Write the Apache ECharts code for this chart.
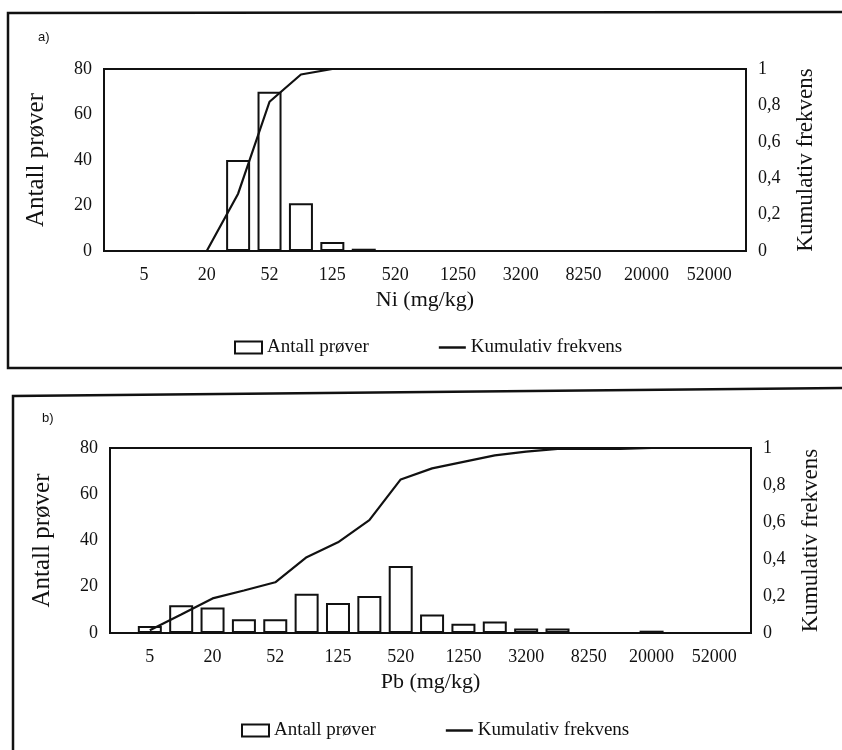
<!DOCTYPE html>
<html>
<head>
<meta charset="utf-8">
<title>Ni og Pb</title>
<script src="https://cdn.jsdelivr.net/npm/echarts@6/dist/echarts.min.js"></script>
<style>
  html, body { margin: 0; padding: 0; background: #fff; }
  #chart { width: 842px; height: 750px; }
</style>
</head>
<body>
<div id="chart"></div>
<script>
// klasser (bare annenhver har etikett)
const binLabels = ['5', '', '20', '', '52', '', '125', '', '520', '', '1250', '', '3200', '', '8250', '', '20000', '', '52000'];
const labelPositions = [0, 2, 4, 6, 8, 10, 12, 14, 16, 18];

// a) Ni
const niCounts = [0, 0, 0, 40, 70, 21, 4, 1, 0, 0, 0, 0, 0, 0, 0, 0, 0, 0, 0];
const niCumulative = [0, 0, 0, 0.315, 0.82, 0.97, 1, 1, 1, 1, 1, 1, 1, 1, 1, 1, 1, 1, 1];

// b) Pb
const pbCounts = [3, 12, 11, 6, 6, 17, 13, 16, 29, 8, 4, 5, 2, 2, 0, 0, 1, 0, 0];
const pbCumulative = [0.015, 0.1, 0.187, 0.23, 0.274, 0.41, 0.49, 0.61, 0.83, 0.89, 0.925, 0.96, 0.98, 0.995, 0.995, 0.995, 1, 1, 1];

const leftTicks = [0, 20, 40, 60, 80];
const rightTicks = [0, 0.2, 0.4, 0.6, 0.8, 1];

const serif = 'Liberation Serif';
const ink = '#111';

let chart = echarts.init(document.getElementById('chart'), null, {renderer: 'canvas'});

let toPairs = (arr) => arr.map((v, i) => [i, v]);
let commaNum = (v) => {
  if (v === 0) return '0';
  if (v === 1) return '1';
  return v.toFixed(1).replace('.', ',');
};

let makeX = (gridIndex, name) => ({
  type: 'value',
  gridIndex: gridIndex,
  min: -1.27,
  max: 19.17,
  name: name,
  nameLocation: 'middle',
  nameGap: 38,
  nameTextStyle: {fontFamily: serif, fontSize: 22, color: ink},
  axisLine: {show: true, onZero: false, lineStyle: {color: ink, width: 2}},
  axisTick: {show: false},
  splitLine: {show: false},
  axisLabel: {
    customValues: labelPositions,
    formatter: (v) => binLabels[Math.round(v)],
    fontFamily: serif, fontSize: 18, color: ink, margin: 15
  }
});

let makeLeftY = (gridIndex) => ({
  type: 'value',
  gridIndex: gridIndex,
  position: 'left',
  min: leftTicks[0],
  max: leftTicks[leftTicks.length - 1],
  interval: 20,
  name: 'Antall prøver',
  nameLocation: 'middle',
  nameGap: 55,
  nameTextStyle: {fontFamily: serif, fontSize: 25, color: ink},
  axisLine: {show: true, onZero: false, lineStyle: {color: ink, width: 2}},
  axisTick: {show: false},
  splitLine: {show: false},
  axisLabel: {fontFamily: serif, fontSize: 18, color: ink, margin: 12}
});

let makeRightY = (gridIndex) => ({
  type: 'value',
  gridIndex: gridIndex,
  position: 'right',
  min: rightTicks[0],
  max: rightTicks[rightTicks.length - 1],
  interval: 0.2,
  name: 'Kumulativ frekvens',
  nameLocation: 'middle',
  nameGap: 48,
  nameTextStyle: {fontFamily: serif, fontSize: 23, color: ink},
  axisLine: {show: true, onZero: false, lineStyle: {color: ink, width: 2}},
  axisTick: {show: false},
  splitLine: {show: false},
  axisLabel: {fontFamily: serif, fontSize: 18, color: ink, margin: 12, formatter: commaNum}
});

let barSeries = (xi, yi, data) => ({
  name: 'Antall prøver',
  type: 'bar',
  xAxisIndex: xi,
  yAxisIndex: yi,
  barWidth: 24,
  data: toPairs(data),
  itemStyle: {color: '#fff', borderColor: ink, borderWidth: 2},
  emphasis: {disabled: true},
  z: 2
});

let lineSeries = (xi, yi, data) => ({
  name: 'Kumulativ frekvens',
  type: 'line',
  xAxisIndex: xi,
  yAxisIndex: yi,
  data: toPairs(data),
  showSymbol: false,
  symbol: 'none',
  lineStyle: {color: ink, width: 2.2},
  itemStyle: {color: ink},
  emphasis: {disabled: true},
  z: 3
});

let makeLegend = (left, top) => ({
  left: left,
  top: top,
  itemWidth: 27,
  itemHeight: 12,
  itemGap: 70,
  textStyle: {fontFamily: serif, fontSize: 19, color: ink},
  data: [
    {name: 'Antall prøver', icon: 'rect', itemStyle: {color: '#fff', borderColor: ink, borderWidth: 2}},
    {name: 'Kumulativ frekvens', icon: 'path://M0,0H24V2.2H0Z', itemStyle: {color: ink, borderWidth: 0}}
  ],
  selectedMode: false
});

let option = {
  backgroundColor: '#fff',
  animation: false,
  grid: [
    {left: 104, top: 69, width: 642, height: 182, show: true, borderColor: ink, borderWidth: 2, backgroundColor: 'transparent'},
    {left: 110, top: 448, width: 641, height: 185, show: true, borderColor: ink, borderWidth: 2, backgroundColor: 'transparent'}
  ],
  xAxis: [makeX(0, 'Ni (mg/kg)'), makeX(1, 'Pb (mg/kg)')],
  yAxis: [makeLeftY(0), makeRightY(0), makeLeftY(1), makeRightY(1)],
  legend: [makeLegend(229, 333), makeLegend(236, 716)],
  graphic: [
    // rammer rundt panelene
    {type: 'polyline', shape: {points: [[850, 12], [8, 13], [8, 368], [850, 368]]}, style: {stroke: ink, lineWidth: 2.5, fill: null}, silent: true},
    {type: 'polyline', shape: {points: [[850, 388], [13, 396], [13, 760]]}, style: {stroke: ink, lineWidth: 2.5, fill: null}, silent: true},
    {type: 'text', left: 38, top: 31, style: {text: 'a)', font: '13px "Liberation Sans"', fill: ink}},
    {type: 'text', left: 42, top: 412, style: {text: 'b)', font: '13px "Liberation Sans"', fill: ink}}
  ],
  series: [
    barSeries(0, 0, niCounts),
    lineSeries(0, 1, niCumulative),
    barSeries(1, 2, pbCounts),
    lineSeries(1, 3, pbCumulative)
  ]
};

chart.setOption(option);
</script>
</body>
</html>
